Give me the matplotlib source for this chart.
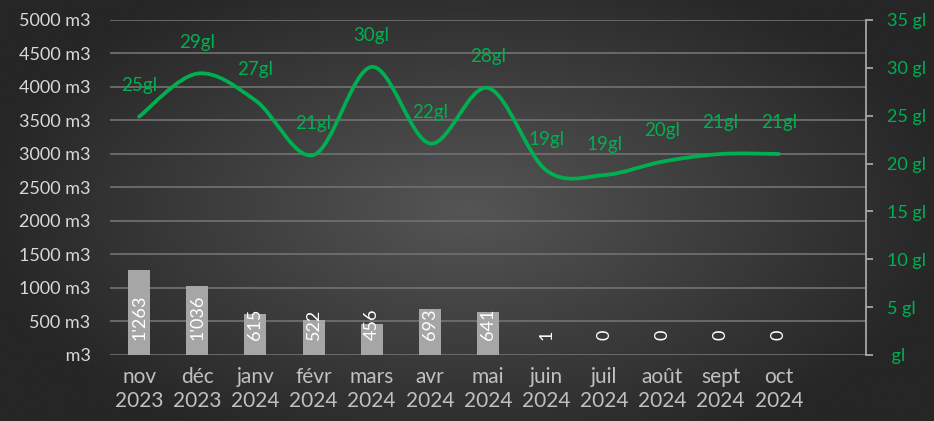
import numpy as np
import matplotlib
matplotlib.use("Agg")
import matplotlib.pyplot as plt
from matplotlib.path import Path
from matplotlib.patches import PathPatch

# données
mois = ["nov\n2023", "déc\n2023", "janv\n2024", "févr\n2024", "mars\n2024", "avr\n2024",
        "mai\n2024", "juin\n2024", "juil\n2024", "août\n2024", "sept\n2024", "oct\n2024"]
volume_m3 = [1263, 1036, 615, 522, 456, 693, 641, 1, 0, 0, 0, 0]
durete_gl = [24.9, 29.4, 26.6, 20.9, 30.1, 22.1, 27.9, 19.3, 18.8, 20.2, 21.0, 21.0]
ticks_m3 = [0, 500, 1000, 1500, 2000, 2500, 3000, 3500, 4000, 4500, 5000]
ticks_gl = [0, 5, 10, 15, 20, 25, 30, 35]

VERT = "#00b050"
GRIS_BARRE = "#a6a6a6"

plt.rcParams['font.family'] = ['Lato', 'DejaVu Sans']

fig = plt.figure(figsize=(9.34, 4.21), dpi=100)

# fond en dégradé radial (centre ~#555, coins ~#262626)
bg = fig.add_axes([0, 0, 1, 1], zorder=-10)
yy, xx = np.mgrid[-1:1:300j, -1:1:600j]
r = np.clip(np.sqrt((xx / 1.05) ** 2 + (yy / 1.25) ** 2), 0, 1)
gris = (38 + 47 * (1 - r)) / 255
bg.imshow(np.dstack([gris, gris, gris]), aspect="auto",
          extent=[0, 1, 0, 1], interpolation="bilinear")
bg.set_axis_off()

ax = fig.add_axes([0.1178, 0.1568, 0.8094, 0.7957])
ax.patch.set_alpha(0)
x = np.arange(len(mois))

# barres (m3)
ax.bar(x, volume_m3, width=0.38, color=GRIS_BARRE, zorder=2)
for xi, v in zip(x, volume_m3):
    ax.annotate(f"{v:,}".replace(",", "'"), (xi, 0), xytext=(0, 15),
                textcoords="offset pixels", rotation=90, rotation_mode="anchor",
                ha="left", va="center", color="white", fontsize=13, zorder=3)

ax.set_xlim(-0.5, 12.5)
ax.set_ylim(0, 5000)
ax.set_yticks(ticks_m3)
ax.set_yticklabels([f"{t} m3" if t else " m3" for t in ticks_m3])
ax.set_xticks(x)
ax.set_xticklabels(mois, linespacing=1.25)
ax.tick_params(axis="y", length=0, pad=14, labelsize=13, labelcolor="#d9d9d9")
ax.tick_params(axis="x", length=0, pad=9, labelsize=15, labelcolor="#c0c0c0")
ax.grid(axis="y", color="#6e6e6e", linewidth=1.3, zorder=0)
for s in ax.spines.values():
    s.set_visible(False)

# courbe lissée (gl) sur l'axe de droite
ax2 = ax.twinx()
ax2.set_ylim(0, 35)
ax2.set_yticks(ticks_gl)
ax2.set_yticklabels([f"{t} gl" if t else " gl" for t in ticks_gl])
ax2.tick_params(axis="y", direction="out", length=5, width=1.3, color="#a6a6a6",
                pad=10, labelsize=13, labelcolor=VERT)
for nom, s in ax2.spines.items():
    s.set_visible(nom == "right")
ax2.spines["right"].set_color("#a6a6a6")
ax2.spines["right"].set_linewidth(1.3)

pts = np.column_stack([x, durete_gl]).astype(float)
verts = [pts[0]]
codes = [Path.MOVETO]
n = len(pts)
for i in range(n - 1):
    p_prev = pts[i - 1] if i > 0 else pts[i]
    p_next2 = pts[i + 2] if i + 2 < n else pts[i + 1]
    c1 = pts[i] + (pts[i + 1] - p_prev) / 6
    c2 = pts[i + 1] - (p_next2 - pts[i]) / 6
    verts += [c1, c2, pts[i + 1]]
    codes += [Path.CURVE4] * 3
ax2.add_patch(PathPatch(Path(verts, codes), fill=False, edgecolor=VERT,
                        linewidth=2.7, capstyle="round", zorder=4))

for xi, v in zip(x, durete_gl):
    ax2.annotate(f"{round(v)}gl", (xi, v), xytext=(0, 31), textcoords="offset pixels",
                 ha="center", va="center", color=VERT, fontsize=13.5)

fig.savefig("out.png", dpi=100)
